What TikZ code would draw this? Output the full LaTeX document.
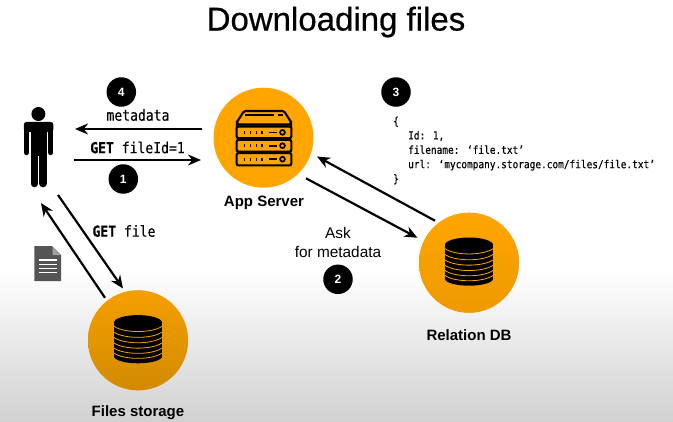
\documentclass[tikz,border=0pt]{standalone}
\usepackage{fontspec}
\setmainfont{Liberation Sans}
\newfontfamily\codefont[FakeStretch=0.86,FakeBold=0.25]{DejaVu Sans Mono}
\newfontfamily\titlefont[FakeBold=0.5]{Liberation Sans}
\usetikzlibrary{arrows.meta}
\definecolor{orng}{HTML}{FFA500}
\definecolor{orngB}{HTML}{F59F00}
\definecolor{orngC}{HTML}{D28A02}
\definecolor{docgray}{HTML}{555555}
\tikzset{
  hub/.style={circle,inner sep=0pt,minimum size=100pt,fill=orng},
  badge/.style={circle,inner sep=0pt,minimum size=29.5pt,fill=black,text=white,font=\fontsize{12}{12}\selectfont\bfseries},
  arrowline/.style={line width=2.2pt,-{Stealth[length=13pt,width=11pt]}},
  hublabel/.style={font=\fontsize{15}{17}\selectfont\bfseries,text=black},
  codelabel/.style={font=\codefont\fontsize{15.2}{17}\selectfont,text=black},
  jsonlabel/.style={font=\codefont\fontsize{11}{14.4}\selectfont,text=black,align=left,anchor=west,inner sep=0pt},
  asklabel/.style={font=\fontsize{15.4}{18.6}\selectfont,align=center,text=black},
  titlelabel/.style={font=\titlefont\fontsize{33}{36}\selectfont,text=black}
}
\newcommand{\dbstack}[3]{% x, y, line colour
  \begin{scope}[shift={(#1,#2)}]
    \fill[black] (0,-17.7) ellipse[x radius=24,y radius=7.5];
    \fill[black] (0,16) ellipse[x radius=24,y radius=7];
    \fill[black] (-24,-17.7) rectangle (24,16);
    \foreach \yy in {-14,-8.2,-2.8,2.6,7.8,12.8}
      \draw[#3,line width=0.8pt] (-24,\yy) .. controls (-14,\yy+7) and (14,\yy+7) .. (24,\yy);
  \end{scope}}
\begin{document}
\begin{tikzpicture}[x=1pt,y=-1pt]
\useasboundingbox (0,0) rectangle (673,421);
\fill[white] (0,0) rectangle (673,271);
\shade[top color=white,bottom color=black!18] (0,270) rectangle (673,421);

\node[titlelabel] (title) at (336,22) {Downloading files};

% hubs
\node[hub] (app) at (263.5,137.7) {};
\node[hub,top color=orng,bottom color=orng!93!black,shading angle=0] (db) at (469,262.7) {};
\node[hub,top color=orngB,bottom color=orngC] (files) at (138,340.3) {};
\node[inner sep=0pt,minimum width=30pt,minimum height=80pt] (person) at (38.5,147) {};

% person
\fill[black] (38.4,114) circle[radius=7];
\fill[black,rounded corners=3pt] (23.8,132) -- (23.8,121.8) -- (53.4,121.8) -- (53.4,132) -- cycle;
\draw[black,line width=5.4pt,line cap=round] (26.5,126) -- (26.5,152.5);
\draw[black,line width=5.4pt,line cap=round] (50.7,126) -- (50.7,152.5);
\fill[black] (30.6,124) rectangle (46.8,156);
\draw[black,line width=7.4pt,line cap=round] (34.2,150) -- (34.2,183.6);
\draw[black,line width=7.4pt,line cap=round] (43,150) -- (43,183.6);

% server icon
\begin{scope}[line width=2.1pt,draw=black,fill=orng]
  \filldraw[rounded corners=1.5pt] (237,124.5) -- (237,122) -- (244,111) -- (284,111) -- (291,122) -- (291,124.5) -- cycle;
  \filldraw[rounded corners=2pt] (236.6,126.5) rectangle (291.4,138.2);
  \filldraw[rounded corners=2pt] (236.6,139.8) rectangle (291.4,151.6);
  \filldraw[rounded corners=2pt] (236.6,153) rectangle (291.4,165.4);
\end{scope}
\draw[black,line width=1.7pt] (245,114.8) -- (274,114.8);
\draw[black,line width=1.7pt] (278,114.8) -- (283,114.8);
\foreach \yy in {132.4,145.7,159.2}{
  \foreach \xx in {243.5,249.5,255.5,261}
    \fill[black] (\xx,\yy-1.6) rectangle (\xx+1.6,\yy+1.6);
  \draw[black,line width=1.8pt] (268.5,\yy) -- (277,\yy);
  \draw[black,line width=1.7pt] (282.5,\yy) circle[radius=2.4];
}

% database icons
\dbstack{469}{262.7}{orng}
\dbstack{138}{340.3}{orngB}

% document icon
\fill[docgray] (34.3,246) -- (52,246) -- (61,255) -- (61,281) -- (34.3,281) -- cycle;
\fill[docgray!55!white] (52.5,247) -- (60.5,255) -- (52.5,255) -- cycle;
\foreach \yy in {260,264.2,268.4,272.6}
  \draw[white,line width=1.3pt] (39.3,\yy) -- (56.5,\yy);

% arrow end points
\coordinate (pA) at (75,129);
\coordinate (aA) at (202,129);
\coordinate (pB) at (74,160);
\coordinate (aB) at (201,160);
\coordinate (aC) at (317,156.5);
\coordinate (dC) at (435,220.7);
\coordinate (aD) at (306,178.3);
\coordinate (dD) at (417.5,237.8);
\coordinate (pE) at (58,195);
\coordinate (fE) at (123,288.5);
\coordinate (pF) at (41,203);
\coordinate (fF) at (105,297.8);

\draw[arrowline] (aA) -- (pA);
\draw[arrowline] (pB) -- (aB);
\draw[arrowline] (dC) -- (aC);
\draw[arrowline] (aD) -- (dD);
\draw[arrowline] (pE) -- (fE);
\draw[arrowline] (fF) -- (pF);

% badges
\node[badge] (b4) at (121.3,92) {4};
\node[badge] (b1) at (123.3,179) {1};
\node[badge] (b3) at (396,92) {3};
\node[badge] (b2) at (338,279.3) {2};

% labels
\node[codelabel] (lmeta) at (138,115) {metadata};
\node[codelabel] (lget) at (137.5,147.5) {\bfseries GET\mdseries{} fileId=1};
\node[codelabel] (lfile) at (124,231) {\bfseries GET\mdseries{} file};
\node[hublabel] (lapp) at (264,202.7) {App Server};
\node[hublabel] (ldb) at (469,335) {Relation DB};
\node[hublabel] (lfiles) at (138,412.5) {Files storage};
\node[asklabel] (lask) at (338,242.3) {Ask\\for metadata};
\node[jsonlabel] (json) at (393,150.5) {\{\\
\hspace*{15pt}Id: 1,\\
\hspace*{15pt}filename: ‘file.txt’\\
\hspace*{15pt}url: ‘mycompany.storage.com/files/file.txt’\\
\}};
\end{tikzpicture}
\end{document}
